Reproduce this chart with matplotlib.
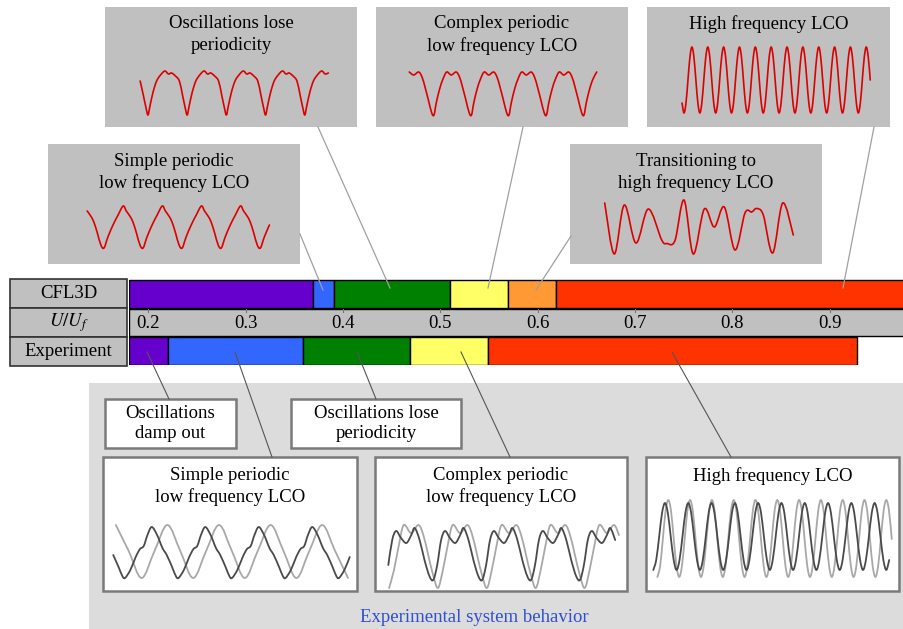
import numpy as np
import matplotlib
matplotlib.use("Agg")
import matplotlib.pyplot as plt
from matplotlib.path import Path
from matplotlib.patches import PathPatch, Rectangle

plt.rcParams['font.family'] = ['Liberation Serif', 'DejaVu Serif']
plt.rcParams['mathtext.fontset'] = 'stix'

# ---------------- data ----------------
row_labels = ["CFL3D", "Experiment"]
tick_values = [0.2, 0.3, 0.4, 0.5, 0.6, 0.7, 0.8, 0.9]
tick_labels = ["0.2", "0.3", "0.4", "0.5", "0.6", "0.7", "0.8", "0.9"]

cfl3d_edges = [0.18, 0.369, 0.391, 0.510, 0.570, 0.619, 1.0]
cfl3d_colors = ["#6600CC", "#3366FF", "#008000", "#FFFF66", "#FF9933", "#FF3300"]
exp_edges = [0.18, 0.220, 0.359, 0.469, 0.549, 0.928]
exp_colors = ["#6600CC", "#3366FF", "#008000", "#FFFF66", "#FF3300"]

# periodic waveform shapes: (phase, y) in one period, trough at phase 0
shape_simple_top = [(0.0, 248), (0.1, 237), (0.23, 225), (0.36, 215), (0.49, 206), (0.57, 211),
                    (0.66, 216), (0.74, 222), (0.83, 233), (0.92, 245)]
shape_lose_top = [(0.0, 115), (0.05, 106), (0.13, 92), (0.22, 81), (0.32, 75), (0.43, 71),
                  (0.52, 74), (0.6, 73), (0.7, 76), (0.8, 81), (0.88, 95), (0.95, 108)]
shape_complex_top = [(0.0, 115), (0.06, 103), (0.15, 89), (0.24, 79), (0.34, 72), (0.46, 75),
                     (0.59, 72), (0.68, 77), (0.76, 87), (0.85, 100), (0.94, 113)]
shape_high_top = [(0.0, 113), (0.125, 103), (0.25, 80), (0.375, 57), (0.5, 47), (0.625, 57),
                  (0.75, 80), (0.875, 103)]
trans_x = [604.7, 614.3, 624.3, 636, 648.3, 661.7, 667, 675, 684, 693.3, 704.3, 714.3, 724.3,
           735, 745, 751.7, 756.7, 763.3, 772.7, 782.7, 793.3]
trans_y = [203, 254, 205, 243, 209, 240, 243.5, 240.5, 200, 254, 209, 227, 207,
           250, 213, 212, 208.5, 215, 253, 203, 235]

shape_simple_light = [(0.0, 578), (0.25, 551), (0.5, 525), (0.75, 551)]
shape_simple_dark = [(0.0, 578), (0.1, 570), (0.2, 557), (0.28, 549), (0.35, 546), (0.42, 535),
                     (0.5, 527), (0.6, 535), (0.7, 548), (0.78, 555), (0.88, 567), (0.95, 576)]
shape_complex_dark = [(0.0, 580), (0.08, 565), (0.16, 540), (0.24, 531), (0.34, 538), (0.45, 543),
                      (0.55, 535), (0.62, 528), (0.72, 540), (0.82, 560), (0.92, 576)]
shape_complex_light = [(0.0, 588), (0.1, 570), (0.2, 545), (0.3, 525), (0.45, 533), (0.6, 525),
                       (0.7, 535), (0.8, 555), (0.9, 575)]
shape_high_dark = [(0.0, 570), (0.125, 560), (0.25, 537), (0.375, 513), (0.5, 503), (0.625, 513),
                   (0.75, 537), (0.875, 560)]
shape_high_light = [(0.0, 577), (0.125, 566), (0.25, 539), (0.375, 511), (0.5, 500), (0.625, 511),
                    (0.75, 539), (0.875, 566)]

FS = 13.5

# ---------------- helpers ----------------
W, H = 904, 629
fig = plt.figure(figsize=(W / 100, H / 100), dpi=100)
ax = fig.add_axes([0, 0, 1, 1])
ax.set_xlim(0, W)
ax.set_ylim(H, 0)
ax.axis('off')
ax.patch.set_visible(False)
ax.set_zorder(2)


def smooth_path(xs, ys):
    pts = np.column_stack([xs, ys]).astype(float)
    n = len(pts)
    verts = [pts[0]]
    codes = [Path.MOVETO]
    for i in range(n - 1):
        p0 = pts[i - 1] if i > 0 else pts[i]
        p1 = pts[i]
        p2 = pts[i + 1]
        p3 = pts[i + 2] if i + 2 < n else pts[i + 1]
        c1 = p1 + (p2 - p0) / 6.0
        c2 = p2 - (p3 - p1) / 6.0
        verts += [c1, c2, p2]
        codes += [Path.CURVE4] * 3
    return Path(verts, codes)


def draw_curve(xs, ys, color, lw=1.2, z=5):
    ax.add_patch(PathPatch(smooth_path(xs, ys), fill=False, edgecolor=color, lw=lw,
                           zorder=z, capstyle='round', joinstyle='round'))


def periodic(shape, x0, period, p_start, p_end):
    xs, ys = [], []
    for k in range(int(np.floor(p_start)) - 1, int(np.ceil(p_end)) + 1):
        for p, y in shape:
            ph = k + p
            if p_start - 1e-9 <= ph <= p_end + 1e-9:
                xs.append(x0 + ph * period)
                ys.append(y)
    return xs, ys


def gray_box(x0, y0, x1, y1, lines, y_first, dy=22):
    ax.add_patch(Rectangle((x0, y0), x1 - x0, y1 - y0, facecolor="#C0C0C0",
                           edgecolor='none', zorder=2))
    for i, t in enumerate(lines):
        ax.text((x0 + x1) / 2, y_first + i * dy, t, ha='center', va='center',
                fontsize=FS, zorder=6)


def white_box(x0, y0, x1, y1, lines, y_first, dy=21):
    ax.add_patch(Rectangle((x0, y0), x1 - x0, y1 - y0, facecolor="white",
                           edgecolor="#7A7A7A", lw=1.8, zorder=3))
    for i, t in enumerate(lines):
        ax.text((x0 + x1) / 2, y_first + i * dy, t, ha='center', va='center',
                fontsize=FS, zorder=6)


# ---------------- lower panel background ----------------
ax.add_patch(Rectangle((89, 383), W - 89, H - 383, facecolor="#DCDCDC", edgecolor='none', zorder=0))
ax.text(474, 617, "Experimental system behavior", ha='center', va='center',
        fontsize=FS, color="#2E4FD0", zorder=6)

# ---------------- top gray boxes ----------------
gray_box(105, 7, 357, 127, ["Oscillations lose", "periodicity"], 24)
gray_box(376, 7, 628, 127, ["Complex periodic", "low frequency LCO"], 24)
gray_box(647, 7, 890, 127, ["High frequency LCO"], 24)
gray_box(48, 144, 300, 264, ["Simple periodic", "low frequency LCO"], 161)
gray_box(570, 144, 822, 264, ["Transitioning to", "high frequency LCO"], 161)

red = "#DD0000"
draw_curve(*periodic(shape_lose_top, 148, 39.2, -0.23, 4.67), red)
draw_curve(*periodic(shape_complex_top, 434, 37.5, -0.66, 4.36), red)
draw_curve(*periodic(shape_high_top, 684, 15.85, -0.13, 11.75), red)
draw_curve(*periodic(shape_simple_top, 104, 39.1, -0.49, 4.3), red)
draw_curve(trans_x, trans_y, red)

# ---------------- bottom white boxes ----------------
white_box(105, 399, 236, 448, ["Oscillations", "damp out"], 414, 19)
white_box(291, 399, 461, 448, ["Oscillations lose", "periodicity"], 414, 19)
white_box(103, 457, 357, 591, ["Simple periodic", "low frequency LCO"], 476)
white_box(375, 457, 627, 591, ["Complex periodic", "low frequency LCO"], 476)
white_box(646, 457, 899, 591, ["High frequency LCO"], 476)

light = "#A8A8A8"
dark = "#4A4A4A"
draw_curve(*periodic(shape_simple_light, 90, 51.6, 0.44, 5.0), light, lw=1.3)
draw_curve(*periodic(shape_simple_dark, 125, 53.5, -0.23, 4.2), dark, lw=1.3)
draw_curve(*periodic(shape_complex_light, 438, 48.9, -1.0, 3.72), light, lw=1.3)
draw_curve(*periodic(shape_complex_dark, 433.3, 48.9, -0.94, 3.72), dark, lw=1.3)
draw_curve(*periodic(shape_high_light, 657.4, 21.8, -0.1, 10.75), light, lw=1.3)
draw_curve(*periodic(shape_high_dark, 653.3, 23.3, 0.0, 10.2), dark, lw=1.3)

# ---------------- leader lines ----------------
top_lines = [((318, 127), (390, 288)), ((523, 127), (488, 288)), ((874, 127), (843, 288)),
             ((300, 234), (323, 290)), ((571, 236), (536, 290))]
for (x0, y0), (x1, y1) in top_lines:
    ax.plot([x0, x1], [y0, y1], color="#A0A0A0", lw=0.9, zorder=8)
bot_lines = [((147, 352), (169, 399)), ((235, 352), (272, 457)), ((357, 352), (376, 399)),
             ((461, 352), (510, 457)), ((672, 352), (731, 457))]
for (x0, y0), (x1, y1) in bot_lines:
    ax.plot([x0, x1], [y0, y1], color="#555555", lw=0.8, zorder=8)

# ---------------- label column ----------------
row_tops = [279, 308, 337]
row_h = 28.5
label_texts = ["CFL3D", r"$U/U_f$", "Experiment"]
for top, lab in zip(row_tops, label_texts):
    ax.add_patch(Rectangle((10, top), 117, row_h, facecolor="#C0C0C0",
                           edgecolor="#333333", lw=1.2, zorder=3))
    ax.text(68.5, top + row_h / 2 + 0.5, lab, ha='center', va='center', fontsize=FS, zorder=6)

# ---------------- bar axes ----------------
bx0, bx1 = 129, W
by0, by1 = 279, 337 + row_h
bax = fig.add_axes([bx0 / W, 1 - by1 / H, (bx1 - bx0) / W, (by1 - by0) / H])
bax.set_zorder(1)
bax.set_xlim(0.18, 0.9765)
bax.set_ylim(-0.5, 2.5 + 0.02)
bax.axis('off')
bax.patch.set_alpha(0)

cfl_left = cfl3d_edges[:-1]
cfl_w = np.diff(cfl3d_edges)
bax.barh([2] * len(cfl_left), cfl_w, left=cfl_left, height=0.97, color=cfl3d_colors,
         edgecolor="black", lw=1.0)
exp_left = exp_edges[:-1]
exp_w = np.diff(exp_edges)
bax.barh([0] * len(exp_left), exp_w, left=exp_left, height=0.97, color=exp_colors,
         edgecolor="black", lw=1.0)
bax.barh([1], [1.0 - 0.18], left=[0.18], height=0.97, color="#C0C0C0", edgecolor="black", lw=1.0)
for v, t in zip(tick_values, tick_labels):
    bax.plot([v, v], [1.485, 1.36], color="#777777", lw=0.8)
    bax.text(v, 0.97, t, ha='center', va='center', fontsize=FS)

fig.savefig("out.png", dpi=100)
